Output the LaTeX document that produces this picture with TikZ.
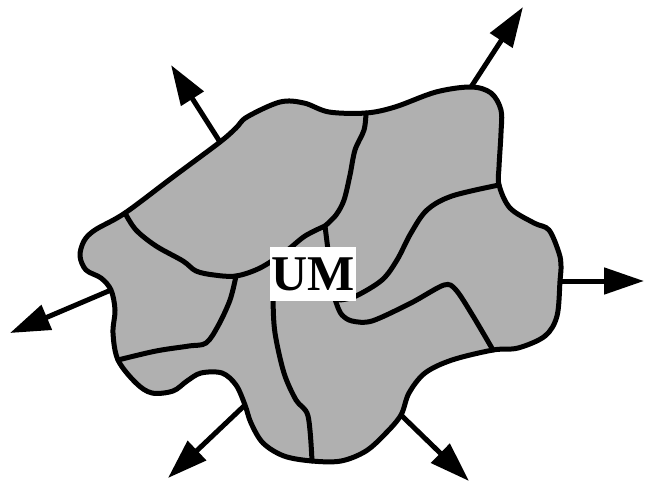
\documentclass[tikz,border=0pt]{standalone}
\usepackage{fontspec}
\setmainfont{Liberation Serif}
\usetikzlibrary{arrows.meta}
\definecolor{umgray}{RGB}{176,176,176}

\begin{document}
\begin{tikzpicture}[
  x=1pt, y=-1pt,
  >={Triangle[length=40pt, width=26pt]},
  blob/.style={line width=5pt, line join=round, fill=umgray},
  seam/.style={line width=5pt, line cap=round},
  outarrow/.style={->, line width=5pt},
  tag/.style={fill=white, inner sep=0pt, minimum width=86pt, minimum height=54pt,
              font=\bfseries\fontsize{50}{50}\selectfont},
]
  \useasboundingbox (0,0) rectangle (645,483);

  % arrow ends on the border and their tips
  \coordinate (ulbase) at (220,142); \coordinate (ultip) at (171,65);
  \coordinate (urbase) at (471,87);  \coordinate (urtip) at (523,7);
  \coordinate (rbase)  at (560,281); \coordinate (rtip)  at (644,281);
  \coordinate (brbase) at (401,415); \coordinate (brtip) at (469,481);
  \coordinate (blbase) at (245,405); \coordinate (bltip) at (168,478);
  \coordinate (lbase)  at (111,290); \coordinate (ltip)  at (10,333);

  % the region
  \draw[blob] plot[smooth cycle, tension=0.55] coordinates {
    (125,213) (173,177) (220,142) (236,128) (247,117) (280,102) (304,103)
    (329,112) (366,113) (395,107) (436,92) (471,87) (491,93) (501,110)
    (501,133) (499,167) (499,185) (510,208) (534,223) (549,230) (559,253)
    (561,266) (560,281) (557,316) (545,336) (518,348) (493,350) (452,360)
    (425,373) (409,393) (401,415) (386,433) (366,451) (341,461) (312,461)
    (284,456) (263,443) (251,423) (245,405) (236,385) (222,373) (201,373)
    (187,381) (173,391) (152,393) (136,383) (118,360) (113,333) (115,310)
    (111,290) (101,278) (86,270) (80,256) (84,241) (95,230)};

  % inner borders
  \draw[seam] plot[smooth, tension=0.55] coordinates {
    (125,213) (136,230) (156,246) (183,261) (196,271) (214,275) (236,276)
    (260,268) (285,252) (305,236) (325,226)};
  \draw[seam] plot[smooth, tension=0.55] coordinates {
    (366,113) (364,130) (355,150) (350,175) (344,200) (336,215) (325,226)};
  \draw[seam] plot[smooth, tension=0.5] coordinates {
    (325,226) (328,250) (333,290) (337,305) (342,315) (352,321) (372,321)
    (411,303) (444,285) (456,290) (473,316) (493,350)};
  \draw[seam] plot[smooth, tension=0.55] coordinates {
    (499,185) (452,196) (427,210) (411,233) (397,260) (382,280) (356,296) (340,300)};
  \draw[seam] plot[smooth, tension=0.55] coordinates {
    (236,276) (230,300) (218,326) (206,343) (189,346) (156,351) (118,360)};
  \draw[seam] plot[smooth, tension=0.55] coordinates {
    (273,285) (273,301) (275,333) (284,373) (296,400) (308,416) (312,461)};

  \node[tag] (um) at (313,274) {UM};

  \draw[outarrow] (ulbase) -- (ultip);
  \draw[outarrow] (urbase) -- (urtip);
  \draw[outarrow] (rbase) -- (rtip);
  \draw[outarrow] (brbase) -- (brtip);
  \draw[outarrow] (blbase) -- (bltip);
  \draw[outarrow] (lbase) -- (ltip);
\end{tikzpicture}
\end{document}
